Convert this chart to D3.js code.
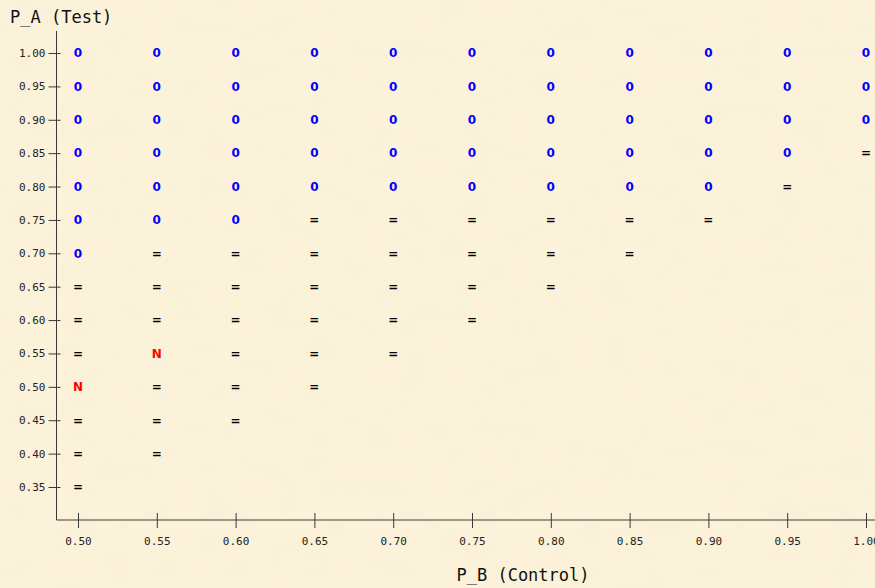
<!DOCTYPE html>
<html>
<head>
<meta charset="utf-8">
<script src="https://cdn.jsdelivr.net/npm/d3@7"></script>
<style>
  body { margin: 0; background: #faefd3; }
  svg { display: block; }
</style>
</head>
<body>
<div id="chart"></div>
<script>
// P_B (Control) values, one per column
var pB = [0.50, 0.55, 0.60, 0.65, 0.70, 0.75, 0.80, 0.85, 0.90, 0.95, 1.00];
// P_A (Test) values, from top (1.00) down
var pA = [1.00, 0.95, 0.90, 0.85, 0.80, 0.75, 0.70, 0.65, 0.60, 0.55, 0.50, 0.45, 0.40, 0.35];
// outcome symbol per column, read from P_A = 1.00 downwards
var outcome = [
  "0000000===N===",
  "000000===N===",
  "000000======",
  "00000======",
  "00000=====",
  "00000====",
  "00000===",
  "00000==",
  "00000=",
  "0000=",
  "000="
];
var xTicks = pB;
var yTicks = pA;
var symColor = {"0": "#0000ff", "=": "#000000", "N": "#ff0000"};

var W = 875, H = 588;
var monoFont = "'DejaVu Sans Mono', 'Liberation Mono', monospace";
var symFont = "'DejaVu Sans', Verdana, sans-serif";

var points = [];
outcome.forEach(function(col, i) {
  col.split("").forEach(function(c, j) {
    points.push({b: pB[i], a: pA[j], s: c});
  });
});

var x = d3.scaleLinear().domain([0.5, 1.0]).range([78, 866]);
var y = d3.scaleLinear().domain([0.35, 1.0]).range([487, 53]);

var svg = d3.select("#chart").append("svg")
            .attr("width", W)
            .attr("height", H);

// parchment background
var defs = svg.append("defs");
var f = defs.append("filter").attr("id", "paper").attr("x", 0).attr("y", 0).attr("width", "100%").attr("height", "100%");
f.append("feTurbulence").attr("type", "fractalNoise").attr("baseFrequency", "0.03 0.05").attr("numOctaves", 3).attr("seed", 7);
f.append("feColorMatrix").attr("type", "matrix")
 .attr("values", "0 0 0 0 0.93  0 0 0 0 0.86  0 0 0 0 0.68  0 0 0 0.6 -0.22");
svg.append("rect").attr("width", W).attr("height", H).attr("fill", "#fcf2da");
svg.append("rect").attr("width", W).attr("height", H).attr("filter", "url(#paper)");

var axisColor = "#3a3a3a";
var xAxisY = 520, yAxisX = 56.5;

// axis lines
svg.append("line").attr("x1", yAxisX).attr("x2", yAxisX).attr("y1", 31).attr("y2", xAxisY)
   .attr("stroke", axisColor).attr("stroke-width", 1);
svg.append("line").attr("x1", yAxisX).attr("x2", W).attr("y1", xAxisY).attr("y2", xAxisY)
   .attr("stroke", axisColor).attr("stroke-width", 1);

var gx = svg.append("g").attr("transform", "translate(0," + xAxisY + ")")
            .call(d3.axisBottom(x).tickValues(xTicks).tickFormat(d3.format(".2f")).tickSize(8).tickPadding(9));
gx.select(".domain").remove();
gx.selectAll(".tick line").attr("y1", -7).attr("stroke", axisColor);

var gy = svg.append("g").attr("transform", "translate(" + yAxisX + ",0)")
            .call(d3.axisLeft(y).tickValues(yTicks).tickFormat(d3.format(".2f")).tickSize(8).tickPadding(3));
gy.select(".domain").remove();
gy.selectAll(".tick line").attr("x1", 4).attr("stroke", axisColor);

svg.selectAll(".tick text")
   .style("font-family", monoFont)
   .style("font-size", "11px")
   .attr("fill", "#222");

// symbols
svg.append("g").selectAll("text").data(points).enter().append("text")
   .attr("x", d => x(d.b))
   .attr("y", d => y(d.a))
   .attr("dy", "0.36em")
   .attr("text-anchor", "middle")
   .style("font-family", symFont)
   .style("font-weight", "bold")
   .style("font-size", "12px")
   .attr("fill", d => symColor[d.s])
   .text(d => d.s);

// axis titles
svg.append("text").attr("x", 10).attr("y", 23)
   .style("font-family", monoFont).style("font-size", "17px").attr("fill", "#111")
   .text("P_A (Test)");
svg.append("text").attr("x", 523).attr("y", 581).attr("text-anchor", "middle")
   .style("font-family", monoFont).style("font-size", "17px").attr("fill", "#111")
   .text("P_B (Control)");
</script>
</body>
</html>
